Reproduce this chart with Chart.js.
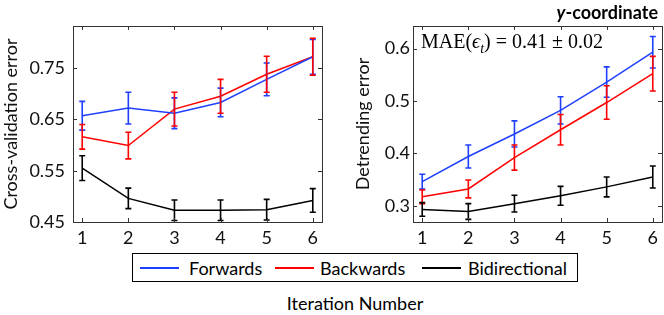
<!DOCTYPE html>
<html>
<head>
<meta charset="utf-8">
<script src="https://cdn.jsdelivr.net/npm/chart.js@4.4.1/dist/chart.umd.min.js"></script>
<style>
    body { margin: 0; background: #fff; }
    #wrap { position: relative; width: 664px; height: 315px; overflow: hidden; font-family: Lato, sans-serif; color: #000; }
    canvas { position: absolute; top: 0; }
    #leftChart { left: 0; }
    #rightChart { left: 332px; }
    .txt { position: absolute; white-space: nowrap; }
    #title { right: 6px; top: 1px; font-size: 18px; font-weight: bold; }
    #mae { left: 421px; top: 30px; font-family: "Liberation Serif", serif; font-size: 20px; }
    #legend { position: absolute; left: 132px; top: 253px; width: 446px; height: 29px; box-sizing: border-box; border: 1px solid #000; }
    .sample { position: absolute; top: 13px; height: 2px; width: 39px; }
    .lbl { position: absolute; top: 3px; font-size: 18px; }
    #xlabel { left: 0; width: 710px; text-align: center; top: 292px; font-size: 18px; }
</style>
</head>
<body>
<div id="wrap">
    <canvas id="leftChart" width="332" height="250"></canvas>
    <canvas id="rightChart" width="332" height="250"></canvas>
    <div class="txt" id="title"><i>y</i>-coordinate</div>
    <div class="txt" id="mae">MAE(<i>ϵ</i><sub style="font-size:14px"><i>t</i></sub>) = 0.41 ± 0.02</div>
    <div id="legend">
        <div class="sample" style="left:7px;background:#1f3fff"></div>
        <span class="lbl" style="left:56px">Forwards</span>
        <div class="sample" style="left:142px;background:#ff0000"></div>
        <span class="lbl" style="left:187px">Backwards</span>
        <div class="sample" style="left:289px;background:#000"></div>
        <span class="lbl" style="left:335px">Bidirectional</span>
    </div>
    <div class="txt" id="xlabel">Iteration Number</div>
</div>
<script>
// Données
const iterations = [1, 2, 3, 4, 5, 6];

// Panneau gauche : erreur de validation croisée
const cvForwards = [0.657, 0.672, 0.662, 0.683, 0.728, 0.772];
const cvForwardsErr = [0.028, 0.031, 0.030, 0.028, 0.032, 0.034];
const cvBackwards = [0.616, 0.599, 0.670, 0.695, 0.738, 0.772];
const cvBackwardsErr = [0.024, 0.026, 0.033, 0.033, 0.035, 0.036];
const cvBidir = [0.555, 0.496, 0.473, 0.473, 0.474, 0.492];
const cvBidirErr = [0.024, 0.020, 0.020, 0.020, 0.020, 0.023];
const cvTicks = [0.45, 0.55, 0.65, 0.75];

// Panneau droit : erreur de détendance
const dtForwards = [0.346, 0.394, 0.437, 0.482, 0.536, 0.593];
const dtForwardsErr = [0.014, 0.022, 0.025, 0.026, 0.029, 0.030];
const dtBackwards = [0.317, 0.332, 0.392, 0.445, 0.497, 0.552];
const dtBackwardsErr = [0.013, 0.017, 0.024, 0.029, 0.032, 0.033];
const dtBidir = [0.293, 0.289, 0.304, 0.319, 0.336, 0.355];
const dtBidirErr = [0.013, 0.015, 0.016, 0.018, 0.019, 0.021];
const dtTicks = [0.3, 0.4, 0.5, 0.6];

const BLUE = '#1f3fff';
const RED = '#ff0000';
const BLACK = '#000000';
const FONT = 'Lato, sans-serif';

// Barres d'erreur
const errorBars = {
    id: 'errorBars',
    afterDatasetsDraw(chart) {
        const { ctx, scales: { x, y } } = chart;
        ctx.save();
        chart.data.datasets.forEach(ds => {
            ctx.strokeStyle = ds.borderColor;
            ctx.lineWidth = 1.6;
            ds.data.forEach((p, i) => {
                const px = x.getPixelForValue(p.x);
                const top = y.getPixelForValue(p.y + ds.errors[i]);
                const bot = y.getPixelForValue(p.y - ds.errors[i]);
                ctx.beginPath();
                ctx.moveTo(px, top); ctx.lineTo(px, bot);
                ctx.moveTo(px - 3, top); ctx.lineTo(px + 3, top);
                ctx.moveTo(px - 3, bot); ctx.lineTo(px + 3, bot);
                ctx.stroke();
            });
        });
        ctx.restore();
    }
};

// Cadre et graduations intérieures (style MATLAB)
const frame = {
    id: 'frame',
    afterDraw(chart) {
        const { ctx, chartArea: a, scales: { x, y } } = chart;
        ctx.save();
        ctx.strokeStyle = '#333';
        ctx.lineWidth = 1;
        ctx.strokeRect(Math.round(a.left) + 0.5, Math.round(a.top) + 0.5, Math.round(a.width), Math.round(a.height));
        ctx.beginPath();
        x.ticks.forEach(t => {
            const px = Math.round(x.getPixelForValue(t.value)) + 0.5;
            ctx.moveTo(px, a.bottom); ctx.lineTo(px, a.bottom - 4);
            ctx.moveTo(px, a.top); ctx.lineTo(px, a.top + 4);
        });
        y.ticks.forEach(t => {
            const py = Math.round(y.getPixelForValue(t.value)) + 0.5;
            ctx.moveTo(a.left, py); ctx.lineTo(a.left + 4, py);
            ctx.moveTo(a.right, py); ctx.lineTo(a.right - 4, py);
        });
        ctx.stroke();
        ctx.restore();
    }
};

function makeSet(label, values, errors, color) {
    return {
        label,
        data: iterations.map((v, i) => ({ x: v, y: values[i] })),
        errors,
        borderColor: color,
        borderWidth: 1.5,
        pointRadius: 0,
        tension: 0,
        fill: false
    };
}

function makeChart(id, sets, yMin, yMax, yTicks, yTitle, opts) {
    const ctx = document.getElementById(id).getContext('2d');
    return new Chart(ctx, {
        type: 'line',
        data: { datasets: sets },
        options: {
            responsive: false,
            animation: false,
            layout: { padding: { top: 26, right: opts.right, left: 0, bottom: 0 } },
            plugins: { legend: { display: false }, tooltip: { enabled: false } },
            scales: {
                x: {
                    type: 'linear', min: 0.8, max: 6.2,
                    afterBuildTicks: s => { s.ticks = iterations.map(v => ({ value: v })); },
                    afterFit: s => { s.height = 28; },
                    grid: { display: false, drawTicks: false },
                    border: { display: false },
                    ticks: { color: '#111', font: { family: FONT, size: 18 }, padding: 5 }
                },
                y: {
                    min: yMin, max: yMax,
                    afterBuildTicks: s => { s.ticks = yTicks.map(v => ({ value: v })); },
                    afterFit: s => { s.width = opts.yWidth; },
                    grid: { display: false, drawTicks: false },
                    border: { display: false },
                    ticks: { color: '#111', font: { family: FONT, size: 18 }, padding: opts.tickPad,
                        callback: v => String(v) },
                    title: { display: true, text: yTitle, color: '#111',
                        font: { family: FONT, size: 18 }, padding: { top: opts.titlePad, bottom: 0 } }
                }
            }
        },
        plugins: [errorBars, frame]
    });
}

makeChart('leftChart', [
    makeSet('Forwards', cvForwards, cvForwardsErr, BLUE),
    makeSet('Backwards', cvBackwards, cvBackwardsErr, RED),
    makeSet('Bidirectional', cvBidir, cvBidirErr, BLACK)
], 0.45, 0.832, cvTicks, 'Cross-validation error', { right: 10, yWidth: 73, tickPad: 8, titlePad: 0 });

makeChart('rightChart', [
    makeSet('Forwards', dtForwards, dtForwardsErr, BLUE),
    makeSet('Backwards', dtBackwards, dtBackwardsErr, RED),
    makeSet('Bidirectional', dtBidir, dtBidirErr, BLACK)
], 0.269, 0.643, dtTicks, 'Detrending error', { right: 2, yWidth: 81, tickPad: 3, titlePad: 20 });
</script>
</body>
</html>
